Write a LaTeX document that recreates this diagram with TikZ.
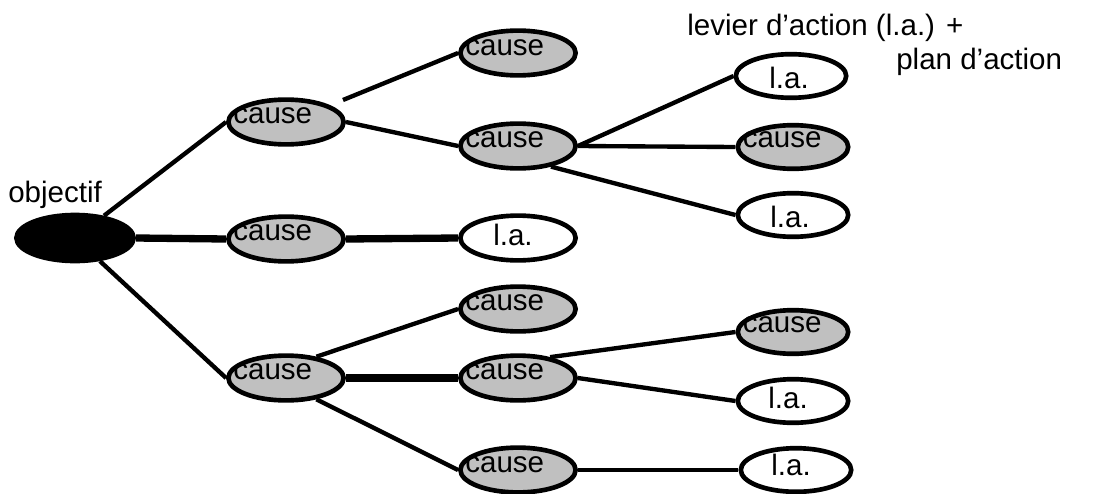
\documentclass[tikz,border=0pt]{standalone}
\usepackage{fontspec}
\setmainfont{Liberation Sans}
\usetikzlibrary{shapes,calc}

\definecolor{causegray}{RGB}{192,192,192}

\tikzset{
	bulle/.style={ellipse, draw=black, line width=3.3pt, inner sep=0pt, minimum width=2.88cm, minimum height=1.12cm},
	petitebulle/.style={bulle, minimum width=2.76cm, minimum height=1.09cm},
	cause/.style={fill=causegray},
	levier/.style={fill=white},
	mot/.style={inner sep=0pt, font=\fontsize{21}{25}\selectfont},
	lien/.style={line width=3.1pt},
	lienfort/.style={line width=5.2pt},
}

\begin{document}
\begin{tikzpicture}[x=0.025cm, y=-0.025cm]
	\useasboundingbox (0,0) rectangle (1095,493);

	% objectif
	\node[bulle, fill=black, minimum width=2.93cm, minimum height=1.15cm] (obj) at (75,238) {};
	\node[mot, anchor=base west] (objt) at (8,202) {objectif};

	% premier niveau
	\node[bulle, cause] (c1) at (286,122) {};
	\node[bulle, cause] (c2) at (286,239) {};
	\node[bulle, cause] (c3) at (286,378) {};

	% second niveau
	\node[bulle, cause] (d1) at (518,53) {};
	\node[bulle, cause] (d2) at (518,146) {};
	\node[bulle, levier] (d3) at (518,238) {};
	\node[bulle, cause] (d4) at (518,309) {};
	\node[bulle, cause] (d5) at (518,378) {};
	\node[bulle, cause] (d6) at (518,470) {};

	% troisieme niveau
	\node[petitebulle, levier] (e1) at (791,76) {};
	\node[petitebulle, cause] (e2) at (793,147) {};
	\node[petitebulle, levier] (e3) at (793,215) {};
	\node[petitebulle, cause] (e4) at (793,332) {};
	\node[petitebulle, levier] (e5) at (793,401) {};
	\node[petitebulle, levier] (e6) at (796,470) {};

	% textes dans les bulles
	\node[mot, anchor=base west] (c1t) at ($(c1.west)+(7,1)$) {cause};
	\node[mot, anchor=base west] (c2t) at ($(c2.west)+(7,1)$) {cause};
	\node[mot, anchor=base west] (c3t) at ($(c3.west)+(7,1)$) {cause};
	\node[mot, anchor=base west] (d1t) at ($(d1.west)+(7,2)$) {cause};
	\node[mot, anchor=base west] (d2t) at ($(d2.west)+(7,1)$) {cause};
	\node[mot, anchor=base] (d3t) at ($(d3.center)+(-5,7)$) {l.a.};
	\node[mot, anchor=base west] (d4t) at ($(d4.west)+(7,1)$) {cause};
	\node[mot, anchor=base west] (d5t) at ($(d5.west)+(7,1)$) {cause};
	\node[mot, anchor=base west] (d6t) at ($(d6.west)+(7,2)$) {cause};
	\node[mot, anchor=base] (e1t) at ($(e1.center)+(-2,12)$) {l.a.};
	\node[mot, anchor=base west] (e2t) at ($(e2.west)+(7,0)$) {cause};
	\node[mot, anchor=base] (e3t) at ($(e3.center)+(-3,12)$) {l.a.};
	\node[mot, anchor=base west] (e4t) at ($(e4.west)+(7,0)$) {cause};
	\node[mot, anchor=base] (e5t) at ($(e5.center)+(-5,7)$) {l.a.};
	\node[mot, anchor=base] (e6t) at ($(e6.center)+(-5,5)$) {l.a.};

	% legende
	\node[mot, anchor=base west] (leg1) at (687,35) {levier d’action (l.a.) +};
	\node[mot, anchor=base west] (leg2) at (896,69) {plan d’action};

	% liens
	\draw[lien] (obj) -- (c1.west);
	\draw[lienfort] (obj.east) -- (c2.west);
	\draw[lien] (obj) -- (c3.west);

	\coordinate (c1haut) at (343,100);
	\draw[lien] (c1haut) -- (d1.west);
	\draw[lien] (c1.east) -- (d2.west);
	\draw[lienfort] (c2.east) -- (d3.west);
	\draw[lien] (c3.35) -- (d4.west);
	\draw[lienfort] (c3.east) -- (d5.west);
	\draw[lien] (c3.-35) -- (d6.west);

	\draw[lien] (d2.east) -- (e1.west);
	\draw[lien] (d2.east) -- (e2.west);
	\draw[lien] (d2.-32) -- (e3.west);
	\draw[lien] (d5.33) -- (e4.west);
	\draw[lien] (d5.east) -- (e5.west);
	\draw[lien] (d6.east) -- (e6.west);
\end{tikzpicture}
\end{document}
